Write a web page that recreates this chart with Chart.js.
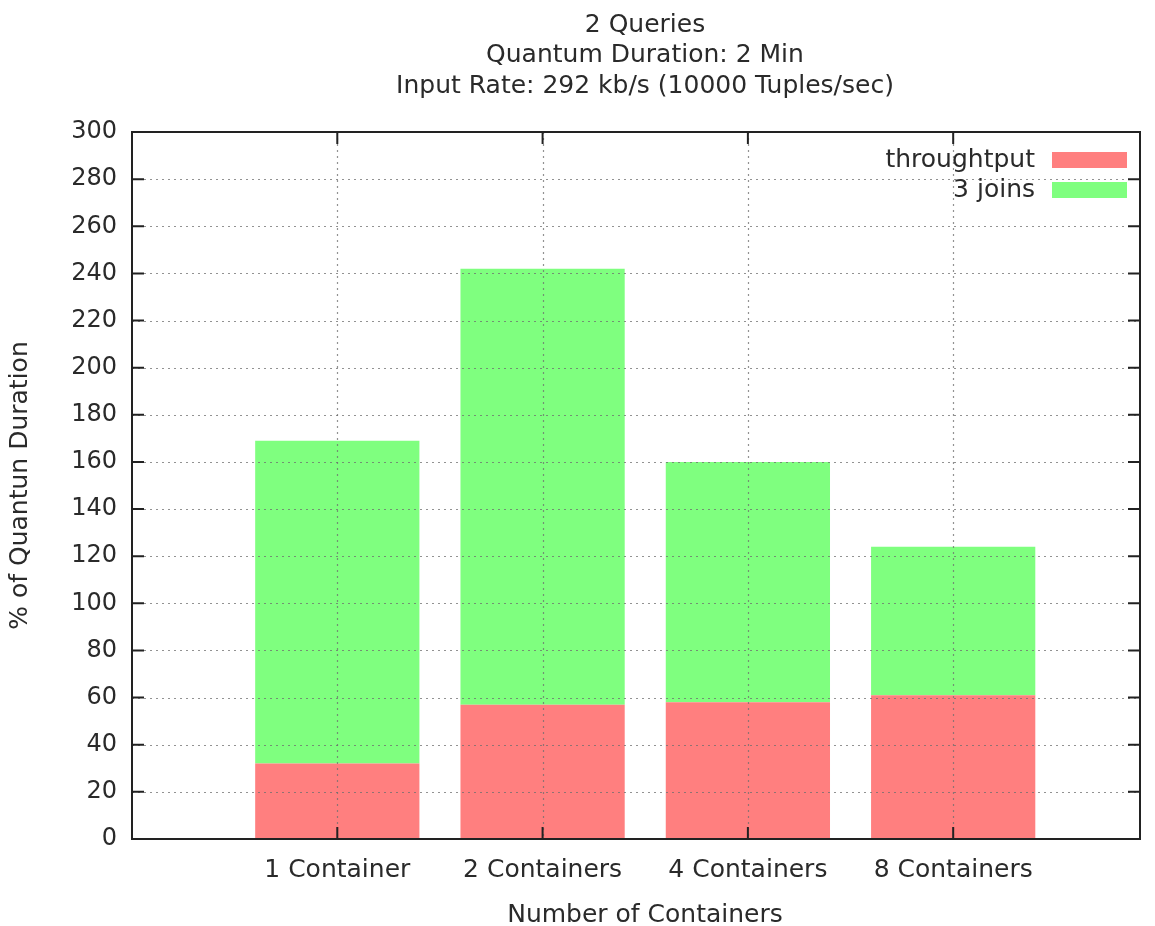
<!DOCTYPE html>
<html>
<head>
<meta charset="utf-8">
<script src="https://cdn.jsdelivr.net/npm/chart.js@4"></script>
<style>
  body { margin: 0; background: #fff; }
  canvas { display: block; }
</style>
</head>
<body>
<canvas id="myChart" width="1155" height="926"></canvas>
<script>
const categories = ['1 Container', '2 Containers', '4 Containers', '8 Containers'];
const throughput = [32, 57, 58, 61];
const joins = [137, 185, 102, 63];
const yTicks = [0, 20, 40, 60, 80, 100, 120, 140, 160, 180, 200, 220, 240, 260, 280, 300];
const titleLines = ['2 Queries', 'Quantum Duration: 2 Min', 'Input Rate: 292 kb/s (10000 Tuples/sec)'];
const xTitle = 'Number of Containers';
const yTitle = '% of Quantun Duration';

const FONT = 'DejaVu Sans';
const TEXT = '#2a2a2a';

// grid, frame, mirrored ticks, legend and titles, gnuplot style
const gnuplotLook = {
    id: 'gnuplotLook',
    afterDatasetsDraw(chart) {
        const ctx = chart.ctx;
        const a = chart.chartArea;
        const xs = chart.scales.x, ys = chart.scales.y;
        ctx.save();

        // dotted grid in front of bars
        ctx.strokeStyle = 'rgba(110,110,110,0.75)';
        ctx.lineWidth = 1.2;
        ctx.setLineDash([2, 4]);
        yTicks.slice(1, -1).forEach(v => {
            const y = Math.round(ys.getPixelForValue(v)) + 0.5;
            ctx.beginPath(); ctx.moveTo(a.left, y); ctx.lineTo(a.right, y); ctx.stroke();
        });
        categories.forEach((c, i) => {
            const x = Math.round(xs.getPixelForValue(i)) + 0.5;
            ctx.beginPath(); ctx.moveTo(x, a.top); ctx.lineTo(x, a.bottom); ctx.stroke();
        });
        ctx.setLineDash([]);

        // frame
        ctx.strokeStyle = '#222';
        ctx.lineWidth = 2;
        ctx.strokeRect(a.left, a.top, a.right - a.left, a.bottom - a.top);

        // inward ticks on all four sides
        const tl = 12;
        ctx.beginPath();
        yTicks.forEach(v => {
            const y = ys.getPixelForValue(v);
            ctx.moveTo(a.left, y); ctx.lineTo(a.left + tl, y);
            ctx.moveTo(a.right, y); ctx.lineTo(a.right - tl, y);
        });
        categories.forEach((c, i) => {
            const x = xs.getPixelForValue(i);
            ctx.moveTo(x, a.bottom); ctx.lineTo(x, a.bottom - tl);
            ctx.moveTo(x, a.top); ctx.lineTo(x, a.top + tl);
        });
        ctx.stroke();

        // legend, top right inside plot
        ctx.font = '25px ' + FONT;
        ctx.textAlign = 'right';
        ctx.textBaseline = 'middle';
        chart.data.datasets.forEach((ds, i) => {
            const cy = a.top + 28 + i * 30;
            ctx.fillStyle = TEXT;
            ctx.fillText(ds.label, a.right - 105, cy);
            ctx.fillStyle = ds.backgroundColor;
            ctx.fillRect(a.right - 88, cy - 8, 75, 16);
        });

        // titles
        ctx.fillStyle = TEXT;
        ctx.textAlign = 'center';
        const cx = (a.left + a.right) / 2;
        titleLines.forEach((t, i) => ctx.fillText(t, 645, 25 + i * 30.5));
        ctx.fillText(xTitle, 645, 915);
        ctx.translate(20, (a.top + a.bottom) / 2);
        ctx.rotate(-Math.PI / 2);
        ctx.fillText(yTitle, 0, 0);
        ctx.restore();
    }
};

const ctx = document.getElementById('myChart').getContext('2d');
const myChart = new Chart(ctx, {
    type: 'bar',
    data: {
        datasets: [{
            label: 'throughtput',
            data: throughput.map((v, i) => ({ x: i, y: v })),
            backgroundColor: 'rgb(255, 127, 127)',
            borderWidth: 0
        }, {
            label: '3 joins',
            data: joins.map((v, i) => ({ x: i, y: v })),
            backgroundColor: 'rgb(127, 255, 127)',
            borderWidth: 0
        }]
    },
    options: {
        responsive: false,
        animation: false,
        layout: { padding: { top: 132, right: 15, left: 0, bottom: 0 } },
        categoryPercentage: 1,
        barPercentage: 0.8,
        plugins: { legend: { display: false }, tooltip: { enabled: false } },
        scales: {
            x: {
                type: 'linear',
                stacked: true,
                offset: false,
                min: -1,
                max: 3.91,
                afterBuildTicks: s => { s.ticks = categories.map((c, i) => ({ value: i })); },
                afterFit: s => { s.height = 87; },
                grid: { display: false, drawTicks: false, offset: false },
                border: { display: false },
                ticks: {
                    callback: v => categories[v] ?? '',
                    font: { family: FONT, size: 25 },
                    color: TEXT,
                    padding: 16,
                    maxRotation: 0,
                    autoSkip: false
                }
            },
            y: {
                stacked: true,
                min: 0,
                max: 300,
                afterBuildTicks: s => { s.ticks = yTicks.map(v => ({ value: v })); },
                afterFit: s => { s.width = 132; },
                grid: { display: false, drawTicks: false },
                border: { display: false },
                ticks: {
                    font: { family: FONT, size: 24 },
                    color: TEXT,
                    padding: 15
                }
            }
        }
    },
    plugins: [gnuplotLook]
});
</script>
</body>
</html>
